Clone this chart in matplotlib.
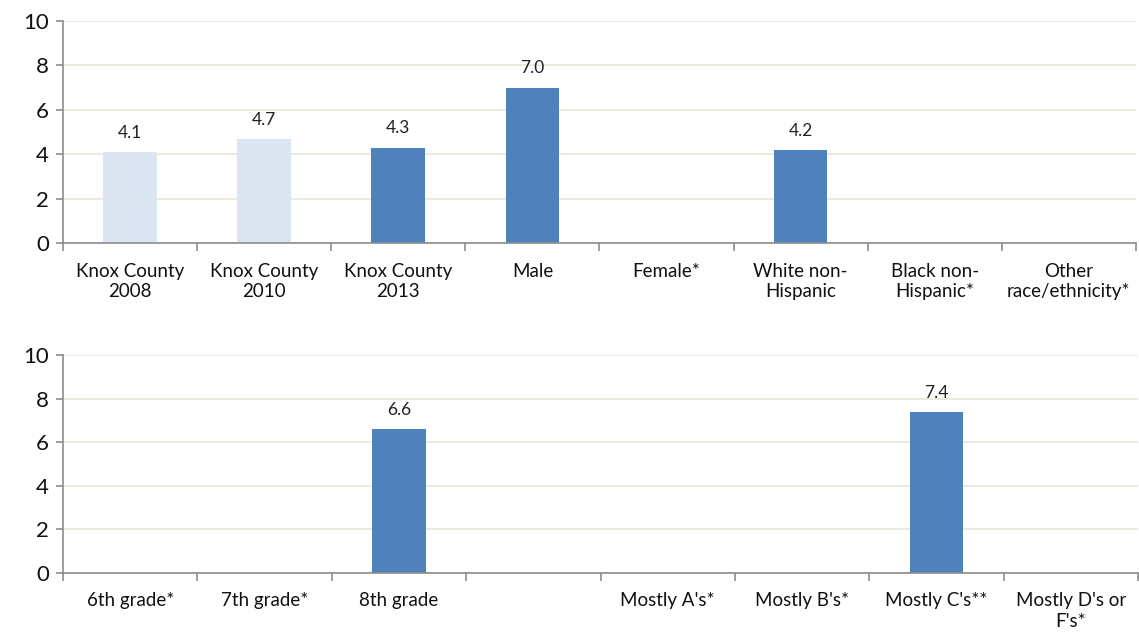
import numpy as np
import matplotlib.pyplot as plt
from matplotlib.ticker import FixedLocator

plt.rcParams['font.family'] = ['Lato', 'DejaVu Sans']

# top panel
top_labels = ["Knox County\n2008", "Knox County\n2010", "Knox County\n2013", "Male",
              "Female*", "White non-\nHispanic", "Black non-\nHispanic*", "Other\nrace/ethnicity*"]
top_values = [4.1, 4.7, 4.3, 7.0, np.nan, 4.2, np.nan, np.nan]
top_colors = ["#DCE6F2", "#DCE6F2", "#4F81BD", "#4F81BD",
              "#4F81BD", "#4F81BD", "#4F81BD", "#4F81BD"]

# bottom panel
bot_labels = ["6th grade*", "7th grade*", "8th grade", "",
              "Mostly A's*", "Mostly B's*", "Mostly C's**", "Mostly D's or\nF's*"]
bot_values = [np.nan, np.nan, 6.6, np.nan, np.nan, np.nan, 7.4, np.nan]
bot_colors = ["#4F81BD"] * 8

grid_c = "#E8E6DA"
spine_c = "#8C8C8C"

fig = plt.figure(figsize=(11.39, 6.33), dpi=100)
ax1 = fig.add_axes([0.0553, 0.616, 0.942, 0.351])
ax2 = fig.add_axes([0.0553, 0.0948, 0.944, 0.344])


def draw(ax, labels, values, colors):
    n = len(labels)
    x = np.arange(n)
    vals = np.array(values, dtype=float)
    ax.bar(x, np.nan_to_num(vals), width=0.4, color=colors, zorder=3)
    for xi, v in zip(x, vals):
        if not np.isnan(v):
            ax.annotate(f"{v:.1f}", (xi, v), xytext=(0, 8), textcoords="offset points",
                        ha="center", va="bottom", fontsize=12.5, color="#222222")
    ax.set_xlim(-0.5, n - 0.5)
    ax.set_ylim(0, 10)
    ax.set_yticks([0, 2, 4, 6, 8, 10])
    ax.tick_params(axis='y', labelsize=16, length=5, color=spine_c, width=1.2, pad=5,
                   labelcolor="#111111")
    # category labels centred, tick marks on boundaries
    ax.set_xticks(x)
    ax.set_xticklabels(labels, fontsize=13.5, color="#111111", linespacing=1.25)
    ax.tick_params(axis='x', which='major', length=0, pad=14)
    ax.xaxis.set_minor_locator(FixedLocator(np.arange(-0.5, n, 1.0)))
    ax.tick_params(axis='x', which='minor', length=6, color=spine_c, width=1.2)
    ax.yaxis.grid(True, color=grid_c, linewidth=1.2, zorder=0)
    ax.set_axisbelow(True)
    for s in ["top", "right"]:
        ax.spines[s].set_visible(False)
    for s in ["left", "bottom"]:
        ax.spines[s].set_color(spine_c)
        ax.spines[s].set_linewidth(1.2)
    ax.spines["bottom"].set_zorder(4)


draw(ax1, top_labels, top_values, top_colors)
draw(ax2, bot_labels, bot_values, bot_colors)

fig.savefig("out.png", dpi=100)
